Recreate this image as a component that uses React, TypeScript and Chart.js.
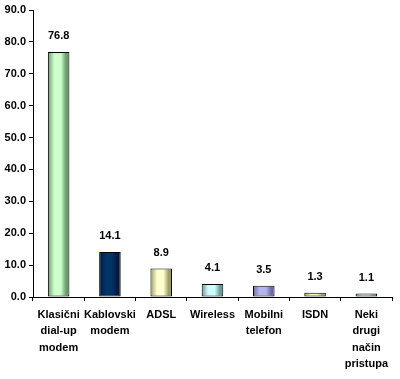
import React, { useEffect, useRef } from "react";
import { Chart, registerables } from "chart.js";

Chart.register(...registerables);

const categories: string[][] = [
  ["Klasični", "dial-up", "modem"],
  ["Kablovski", "modem"],
  ["ADSL"],
  ["Wireless"],
  ["Mobilni", "telefon"],
  ["ISDN"],
  ["Neki", "drugi", "način", "pristupa"],
];
const values: number[] = [76.8, 14.1, 8.9, 4.1, 3.5, 1.3, 1.1];
// [edge dark, light body]
const barColors: [string, string][] = [
  ["#6a9a6a", "#ccffcc"],
  ["#001a40", "#003366"],
  ["#9a9a6a", "#ffffcc"],
  ["#6a9a9a", "#ccffff"],
  ["#6a6aa0", "#b4b4ee"],
  ["#9a9a70", "#f0f0c0"],
  ["#6a8aa0", "#c0e4f4"],
];
const yTicks: number[] = [0, 10, 20, 30, 40, 50, 60, 70, 80, 90];

const FONT = "'Liberation Sans', Arial, sans-serif";

const valueLabels = {
  id: "valueLabels",
  afterDatasetsDraw(chart: any) {
    const ctx = chart.ctx;
    const meta = chart.getDatasetMeta(0);
    ctx.save();
    ctx.font = `bold 11px ${FONT}`;
    ctx.fillStyle = "#000";
    ctx.textAlign = "center";
    ctx.textBaseline = "middle";
    meta.data.forEach((el: any, i: number) => {
      ctx.fillText(values[i].toFixed(1), el.x, el.y - 16);
    });
    ctx.restore();
  },
};

export default function App() {
  const ref = useRef<HTMLCanvasElement>(null);
  useEffect(() => {
    if (!ref.current) return;
    const chart = new Chart(ref.current, {
      type: "bar",
      data: {
        labels: categories,
        datasets: [
          {
            data: values,
            borderColor: "#000",
            borderWidth: 1,
            borderSkipped: false,
            categoryPercentage: 1,
            barPercentage: 0.42,
            backgroundColor: (c: any) => {
              const chartObj = c.chart;
              const xs = chartObj.scales && chartObj.scales.x;
              const cols = barColors[c.dataIndex] || barColors[0];
              if (!xs || !chartObj.chartArea) return cols[1];
              const cx = xs.getPixelForValue(c.dataIndex);
              const w = (xs.width / categories.length) * 0.42;
              const g = chartObj.ctx.createLinearGradient(cx - w / 2, 0, cx + w / 2, 0);
              g.addColorStop(0, cols[0]);
              g.addColorStop(0.3, cols[1]);
              g.addColorStop(0.6, cols[1]);
              g.addColorStop(0.85, cols[0]);
              g.addColorStop(1, cols[0]);
              return g;
            },
          },
        ],
      },
      options: {
        animation: false,
        responsive: false,
        layout: { padding: { top: 10, right: 8, left: 0, bottom: 0 } },
        plugins: { legend: { display: false }, tooltip: { enabled: false } },
        scales: {
          x: {
            grid: {
              offset: true,
              drawOnChartArea: false,
              drawTicks: true,
              tickLength: 4,
              color: "#000",
            },
            border: { color: "#000", width: 1 },
            ticks: {
              color: "#000",
              font: { family: FONT, size: 11, weight: "bold", lineHeight: 1.48 },
              maxRotation: 0,
              autoSkip: false,
              padding: 6,
            },
            afterFit: (s: any) => {
              s.height = 82;
            },
          },
          y: {
            min: 0,
            max: 90,
            afterBuildTicks: (s: any) => {
              s.ticks = yTicks.map((v) => ({ value: v }));
            },
            grid: {
              drawOnChartArea: false,
              drawTicks: true,
              tickLength: 4,
              color: "#000",
            },
            border: { color: "#000", width: 1 },
            ticks: {
              color: "#000",
              font: { family: FONT, size: 11, weight: "bold" },
              padding: 3,
              callback: (v: any) => Number(v).toFixed(1),
            },
            afterFit: (s: any) => {
              s.width = 33;
            },
          },
        },
      },
      plugins: [valueLabels],
    });
    return () => chart.destroy();
  }, []);
  return (
    <div style={{ position: "fixed", left: 0, top: 0, width: 400, height: 379, background: "#fff" }}>
      <canvas ref={ref} width={400} height={379} style={{ width: 400, height: 379 }} />
    </div>
  );
}
